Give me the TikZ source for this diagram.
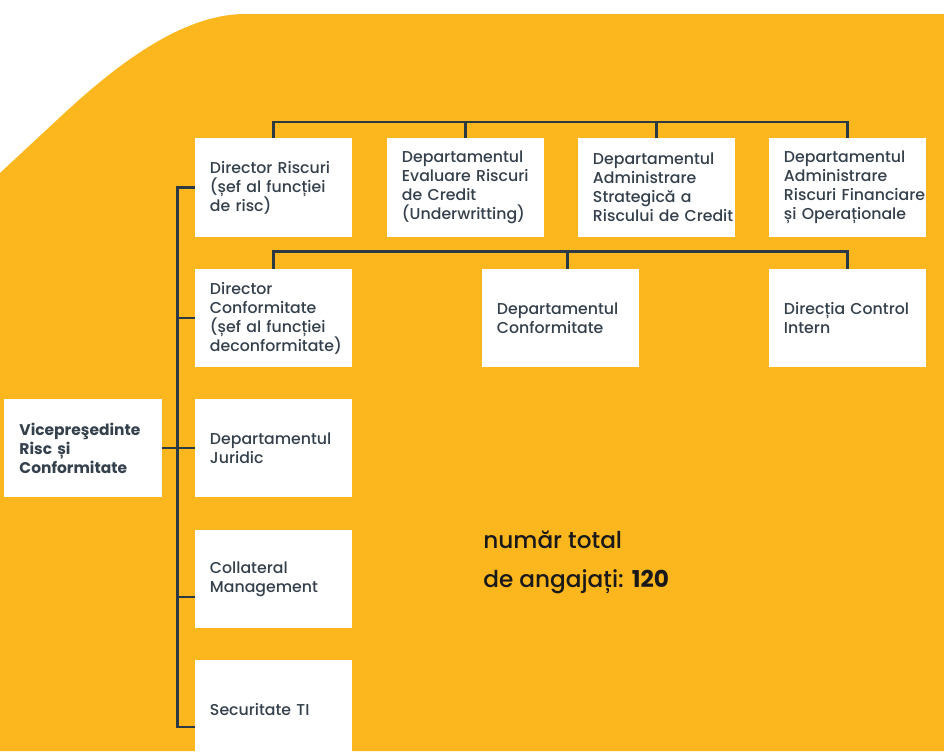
\documentclass[tikz,border=0pt]{standalone}
\usepackage{fontspec}
\IfFontExistsTF{Poppins Medium}
    {\setmainfont{Poppins}[UprightFont={Poppins Medium},BoldFont={Poppins Bold}]}
    {\setmainfont{Poppins}}
\usetikzlibrary{positioning}
\definecolor{orgyellow}{HTML}{FDB71E}
\definecolor{orgline}{HTML}{2B3945}
\definecolor{orgtext}{HTML}{34404C}

\begin{document}
\begin{tikzpicture}[x=0.025cm,y=-0.025cm,
        unit/.style={fill=white,minimum width=3.925cm,minimum height=2.45cm,
            text width=3.175cm,inner xsep=0.375cm,inner ysep=0pt,align=left,
            text=orgtext,font=\fontsize{11.2}{13.5}\selectfont,
            execute at begin node={\hyphenpenalty=10000\exhyphenpenalty=10000}},
        conn/.style={draw=orgline,line width=1.8pt},
        total/.style={anchor=west,inner sep=0pt,text=black!90,font=\fontsize{16.5}{18}\selectfont}]
        \useasboundingbox (0,0) rectangle (944,751);
        \fill[orgyellow] (0,751) -- (0,173) -- (57,120) .. controls (102,78) and (175,14) .. (245,14)
            -- (944,14) -- (944,751) -- cycle;

        \node[unit] (dirrisc) at (273.5,187.5) {Director~Riscuri\\(șef~al~funcției\\de~risc)};
        \node[unit] (evalcred) at (465.5,187.5) {Departamentul\\Evaluare~Riscuri\\de~Credit\\(Underwritting)};
        \node[unit] (stratcred) at (656.5,187.5) {Departamentul\\Administrare\\Strategică~a\\Riscului~de~Credit};
        \node[unit] (finop) at (847.5,187.5) {Departamentul\\Administrare\\Riscuri~Financiare\\și~Operaționale};

        \node[unit] (dirconf) at (273.5,318) {Director\\Conformitate\\(șef~al~funcției\\deconformitate)};
        \node[unit] (depconf) at (560.5,318) {Departamentul\\Conformitate};
        \node[unit] (ctrlint) at (847.5,318) {Direcția~Control\\Intern};

        \node[unit,font=\bfseries\fontsize{11}{13.5}\selectfont] (vp) at (83,448) {Vicepreşedinte\\Risc~și\\Conformitate};
        \node[unit] (juridic) at (273.5,448) {Departamentul\\Juridic};
        \node[unit] (collateral) at (273.5,579) {Collateral\\Management};
        \node[unit] (secti) at (273.5,709) {Securitate~TI};

        \draw[conn] (dirrisc.north) -- ++(0,-16) -| (finop.north);
        \draw[conn] (evalcred.north) -- ++(0,-16);
        \draw[conn] (stratcred.north) -- ++(0,-16);

        \draw[conn] (dirconf.north) -- ++(0,-17) -| (ctrlint.north);
        \draw[conn] ([xshift=0.18cm]depconf.north) -- ++(0,-17);

        \draw[conn] (dirrisc.west) -- ++(-17,0) |- ([yshift=-0.45cm]secti.west);
        \draw[conn] (dirconf.west) -- ++(-17,0);
        \draw[conn] ([yshift=-0.45cm]collateral.west) -- ++(-17,0);
        \draw[conn] (vp.east) -- (juridic.west);

        \node[total] (totalnum) at (483,540) {număr total};
        \node[total] (totalval) at (483,582) {de angajați: \textbf{120}};
    \end{tikzpicture}
\end{document}
